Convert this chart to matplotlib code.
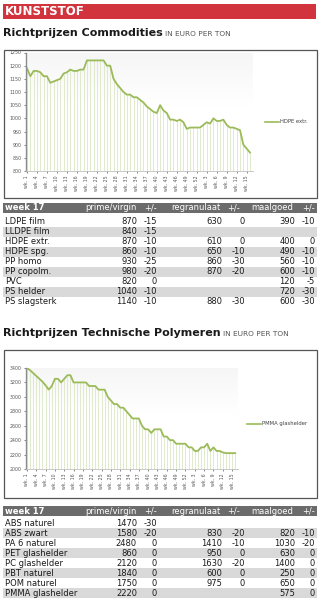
import numpy as np
import matplotlib.pyplot as plt
from matplotlib.patches import Rectangle
from matplotlib.colors import LinearSegmentedColormap

# ---------------------------------------------------------------
# data
# ---------------------------------------------------------------
hdpe_extr = [1190, 1160, 1180, 1180, 1175, 1160, 1160, 1135, 1140, 1145,
             1150, 1170, 1175, 1185, 1180, 1180, 1185, 1185, 1220, 1220,
             1220, 1220, 1220, 1220, 1200, 1200, 1150, 1130, 1115, 1100,
             1090, 1090, 1080, 1080, 1070, 1060, 1045, 1035, 1025, 1020,
             1050, 1030, 1020, 995, 995, 990, 995, 985, 960, 965,
             965, 965, 965, 975, 985, 980, 1000, 990, 990, 995,
             975, 965, 965, 960, 955, 900, 885, 870]

pmma_glas = [3400, 3370, 3330, 3290, 3250, 3210, 3160, 3100, 3150, 3250,
             3250, 3200, 3250, 3300, 3300, 3200, 3200, 3200, 3200, 3200,
             3150, 3150, 3150, 3100, 3100, 3100, 3000, 2950, 2900, 2900,
             2850, 2850, 2800, 2750, 2700, 2700, 2700, 2600, 2550, 2550,
             2500, 2550, 2550, 2550, 2450, 2450, 2400, 2400, 2350, 2350,
             2350, 2350, 2300, 2300, 2250, 2250, 2300, 2300, 2350, 2250,
             2300, 2250, 2250, 2230, 2220, 2220, 2220, 2220]

week_ticks = ["wk. 1", "wk. 4", "wk. 7", "wk. 10", "wk. 13", "wk. 16", "wk. 19",
              "wk. 22", "wk. 25", "wk. 28", "wk. 31", "wk. 34", "wk. 37", "wk. 40",
              "wk. 43", "wk. 46", "wk. 49", "wk. 52", "wk. 3", "wk. 6", "wk. 9",
              "wk. 12", "wk. 15"]

header = ["week 17", "prime/virgin", "+/-", "regranulaat", "+/-", "maalgoed", "+/-"]

names1 = ["LDPE film", "LLDPE film", "HDPE extr.", "HDPE spg.", "PP homo",
          "PP copolm.", "PVC", "PS helder", "PS slagsterk"]
prime1 = ["870", "840", "870", "860", "930", "980", "820", "1040", "1140"]
prime1_d = ["-15", "-15", "-10", "-10", "-25", "-20", "0", "-10", "-10"]
regr1 = ["630", "", "610", "650", "860", "870", "", "", "880"]
regr1_d = ["0", "", "0", "-10", "-30", "-20", "", "", "-30"]
maal1 = ["390", "", "400", "490", "560", "600", "120", "720", "600"]
maal1_d = ["-10", "", "0", "-10", "-10", "-10", "-5", "-30", "-30"]

names2 = ["ABS naturel", "ABS zwart", "PA 6 naturel", "PET glashelder",
          "PC glashelder", "PBT naturel", "POM naturel", "PMMA glashelder"]
prime2 = ["1470", "1580", "2480", "860", "2120", "1840", "1750", "2220"]
prime2_d = ["-30", "-20", "0", "0", "0", "0", "0", "0"]
regr2 = ["", "830", "1410", "950", "1630", "600", "975", ""]
regr2_d = ["", "-20", "-10", "0", "-20", "0", "0", ""]
maal2 = ["", "820", "1030", "630", "1400", "250", "650", "575"]
maal2_d = ["", "-10", "-20", "0", "0", "0", "0", "0"]

# ---------------------------------------------------------------
# style
# ---------------------------------------------------------------
W, H = 324, 606
RED = "#d1343c"
GREEN = "#9bbb59"
DROP = "#dbe7c3"
HEAD = "#6b6b6b"
ROW = "#d9d9d9"
TXT = "#1a1a1a"
plt.rcParams['font.family'] = ['DejaVu Sans']

fig = plt.figure(figsize=(W / 100, H / 100), dpi=100)
bg = fig.add_axes([0, 0, 1, 1])
bg.set_xlim(0, W)
bg.set_ylim(H, 0)
bg.axis("off")


def px_axes(x0, y0, x1, y1):
    return fig.add_axes([x0 / W, 1 - y1 / H, (x1 - x0) / W, (y1 - y0) / H])


def title(y, text):
    t = bg.text(3, y, text, fontsize=8, weight="bold", color=TXT, va="center")
    fig.canvas.draw()
    bb = t.get_window_extent().transformed(bg.transData.inverted())
    bg.text(bb.x1 + 2, y + 0.8, "IN EURO PER TON", fontsize=5.3, color="#555555", va="center")


grad_cmap = LinearSegmentedColormap.from_list("g", ["#ffffff", "#f6f6f6"])


def chart(box, plot, values, ymin, ymax, ystep, label, leg):
    bg.add_patch(Rectangle((box[0], box[1]), box[2] - box[0], box[3] - box[1],
                           fill=False, ec="#555555", lw=0.9))
    ax = px_axes(*plot)
    x = np.arange(len(values))
    g = np.clip((np.linspace(0, 1, 100) - 0.55) / 0.45, 0, 1).reshape(-1, 1)
    ax.imshow(g, extent=[-0.3, len(values) - 0.1, ymin, ymax], origin="lower",
              aspect="auto", cmap=grad_cmap, zorder=0)
    ax.vlines(x, ymin, values, color=DROP, lw=0.6, zorder=1)
    ax.plot(x, values, color=GREEN, lw=1.3, zorder=2, solid_joinstyle="round")
    ax.set_xlim(-0.3, len(values) - 0.1)
    ax.set_ylim(ymin, ymax)
    ax.set_yticks(np.arange(ymin, ymax + 1, ystep))
    ax.set_xticks(np.arange(0, len(values), 3))
    ax.set_xticklabels(week_ticks, rotation=90)
    ax.tick_params(labelsize=3.4, colors="#595959", length=1.5, width=0.5, pad=1.5)
    for s in ["top", "right"]:
        ax.spines[s].set_visible(False)
    ax.spines["left"].set_color("#8c8c8c")
    ax.spines["left"].set_linewidth(1.0)
    ax.spines["bottom"].set_color("#bfbfbf")
    ax.spines["bottom"].set_linewidth(0.6)
    bg.plot([leg[0], leg[0] + 14], [leg[1], leg[1]], color=GREEN, lw=1.2)
    bg.text(leg[0] + 14.5, leg[1], label, fontsize=3.8, color="#404040", va="center")


def table(y_head, y_rows, names, cols):
    bg.add_patch(Rectangle((3, y_head), 314, 10, color=HEAD, lw=0))
    yc = y_head + 5
    bg.text(5, yc, header[0], fontsize=6, color="white", va="center", weight="bold")
    bg.text(137, yc, header[1], fontsize=6, color="white", va="center", ha="right")
    bg.text(144, yc, header[2], fontsize=6, color="white", va="center")
    bg.text(221, yc, header[3], fontsize=6, color="white", va="center", ha="right")
    bg.text(227, yc, header[4], fontsize=6, color="white", va="center")
    bg.text(293, yc, header[5], fontsize=6, color="white", va="center", ha="right")
    bg.text(302, yc, header[6], fontsize=6, color="white", va="center")
    rights = [137, 157, 222, 245, 295, 315]
    for i, name in enumerate(names):
        y0 = y_rows + 10 * i
        if i % 2 == 1:
            bg.add_patch(Rectangle((3, y0), 314, 10, color=ROW, lw=0))
        bg.text(5, y0 + 5, name, fontsize=6, color=TXT, va="center")
        for xr, col in zip(rights, cols):
            bg.text(xr, y0 + 5, col[i], fontsize=6, color=TXT, va="center", ha="right")


# banner
bg.add_patch(Rectangle((3, 4), 313, 15, color=RED, lw=0))
bg.text(5, 11.8, "KUNSTSTOF", fontsize=8.5, weight="bold", color="white", va="center")

# block 1
title(33.5, "Richtprijzen Commodities")
chart((3.5, 49.5, 316.5, 197.5), (26, 52.5, 253, 171), hdpe_extr,
      800, 1250, 50, "HDPE extr.", (265, 121.5))
table(203, 217, names1, [prime1, prime1_d, regr1, regr1_d, maal1, maal1_d])

# block 2
title(333, "Richtprijzen Technische Polymeren")
chart((3.5, 349.5, 316.5, 497.5), (26, 368, 238, 469), pmma_glas,
      2000, 3400, 200, "PMMA glashelder", (247, 424))
table(506, 518, names2, [prime2, prime2_d, regr2, regr2_d, maal2, maal2_d])

fig.savefig("out.png", dpi=100)
